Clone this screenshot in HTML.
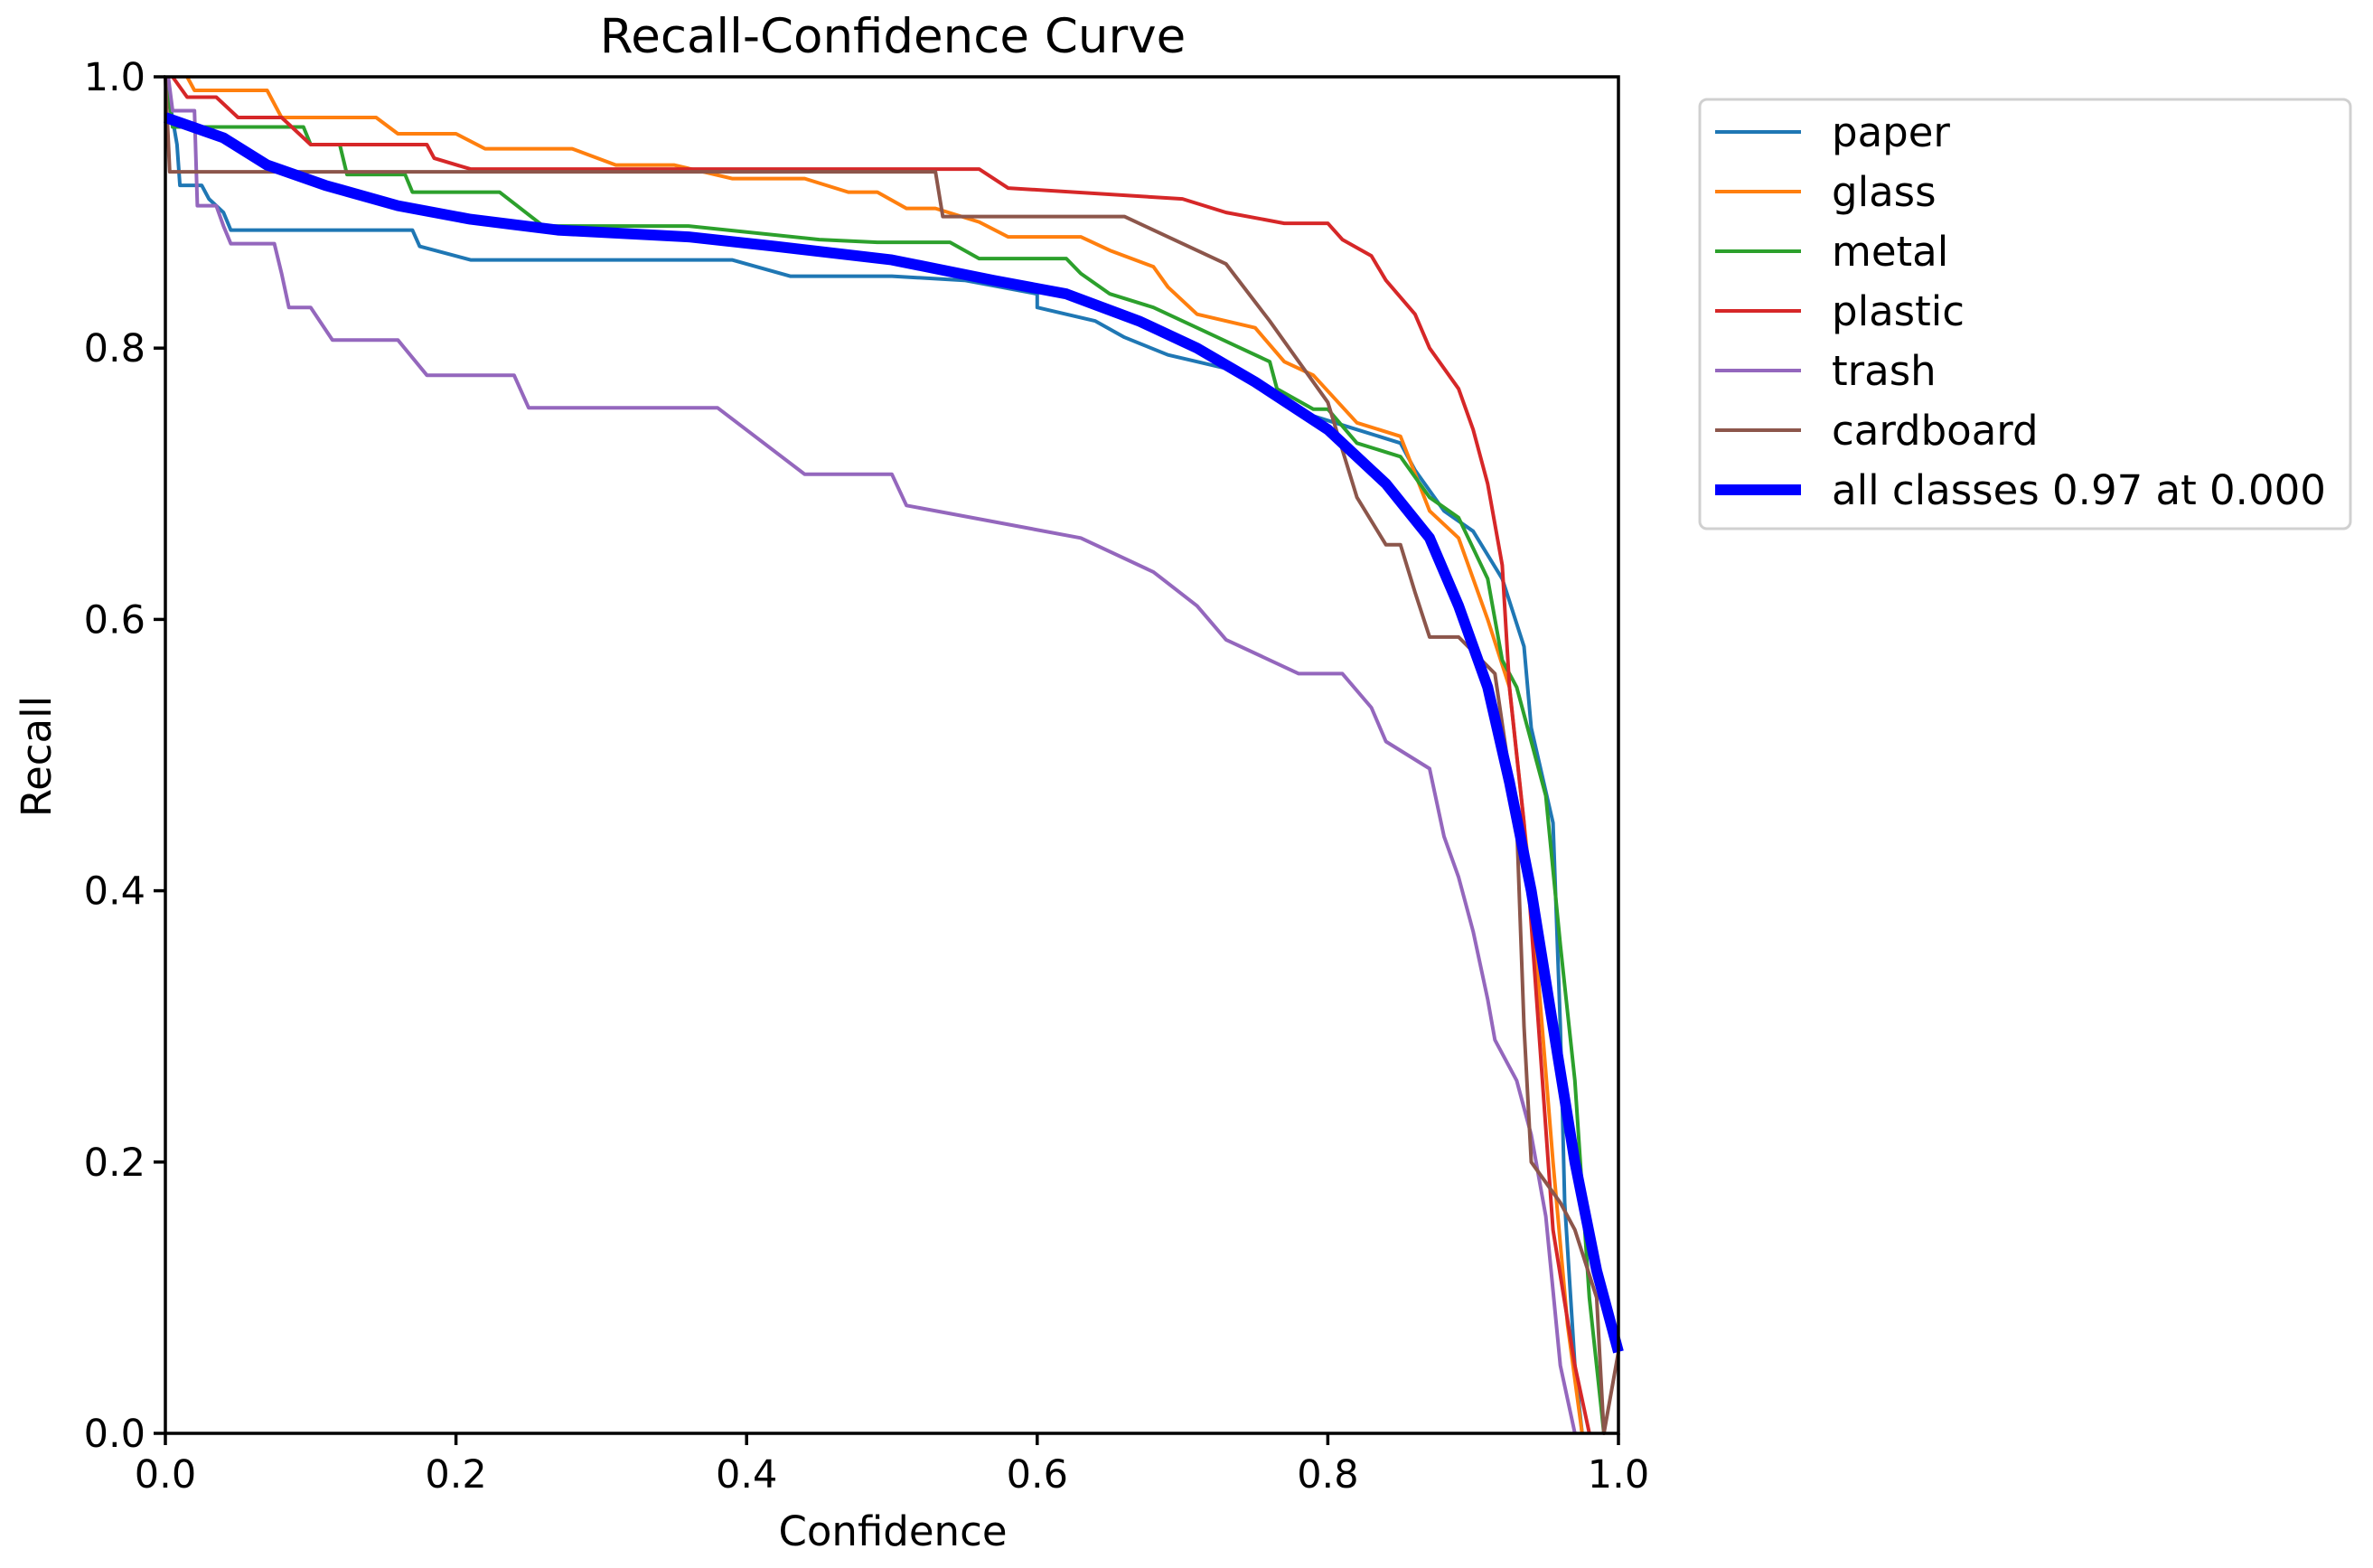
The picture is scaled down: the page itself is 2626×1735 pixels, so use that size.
<!DOCTYPE html>
<html><head><meta charset="utf-8"><style>
body{margin:0;background:#fff;}
svg{display:block;font-family:"DejaVu Sans","Liberation Sans",sans-serif;}
</style></head><body>
<svg id="chart" width="2626" height="1735" viewBox="0 0 2626 1735">
<text x="988" y="58" font-size="53" text-anchor="middle">Recall-Confidence Curve</text>
<g id="plot"></g>
<g id="axes"></g>
<text x="988" y="1710" font-size="45" text-anchor="middle">Confidence</text>
<text transform="translate(56,837) rotate(-90)" font-size="45" text-anchor="middle">Recall</text>
<g id="legend"></g>
</svg>
<script>
const xTicks=[0,0.2,0.4,0.6,0.8,1.0];
const yTicks=[0,0.2,0.4,0.6,0.8,1.0];
const tickLabels=["0.0","0.2","0.4","0.6","0.8","1.0"];
const seriesNames=["paper","glass","metal","plastic","trash","cardboard"];
const seriesColors=["#1f77b4","#ff7f0e","#2ca02c","#d62728","#9467bd","#8c564b"];
const paperX=[0,0.008,0.01,0.025,0.03,0.035,0.04,0.045,0.17,0.175,0.21,0.39,0.43,0.5,0.55,0.6,0.6,0.64,0.66,0.69,0.73,0.76,0.79,0.82,0.85,0.86,0.88,0.9,0.92,0.935,0.94,0.955,0.96,0.963,0.97,0.975];
const paperY=[1.0,0.95,0.92,0.92,0.91,0.905,0.9,0.887,0.887,0.875,0.865,0.865,0.853,0.853,0.85,0.84,0.83,0.82,0.808,0.795,0.785,0.77,0.75,0.74,0.73,0.71,0.68,0.665,0.63,0.58,0.52,0.45,0.3,0.17,0.05,0.0];
const glassX=[0.015,0.02,0.07,0.08,0.145,0.16,0.2,0.22,0.28,0.31,0.35,0.39,0.44,0.47,0.49,0.51,0.53,0.56,0.58,0.63,0.65,0.68,0.69,0.71,0.75,0.77,0.79,0.82,0.85,0.87,0.89,0.91,0.925,0.93,0.94,0.955,0.965,0.975];
const glassY=[1.0,0.99,0.99,0.97,0.97,0.958,0.958,0.947,0.947,0.935,0.935,0.925,0.925,0.915,0.915,0.903,0.903,0.893,0.882,0.882,0.872,0.86,0.845,0.825,0.815,0.79,0.78,0.745,0.735,0.68,0.66,0.6,0.55,0.5,0.4,0.2,0.08,0.0];
const metalX=[0.002,0.005,0.095,0.1,0.12,0.125,0.165,0.17,0.23,0.26,0.36,0.45,0.49,0.54,0.56,0.62,0.63,0.65,0.68,0.71,0.73,0.76,0.765,0.79,0.8,0.82,0.85,0.87,0.89,0.91,0.92,0.93,0.95,0.96,0.97,0.98,0.99];
const metalY=[0.99,0.963,0.963,0.95,0.95,0.928,0.928,0.915,0.915,0.89,0.89,0.88,0.878,0.878,0.866,0.866,0.855,0.84,0.83,0.815,0.805,0.79,0.77,0.755,0.755,0.73,0.72,0.69,0.675,0.63,0.57,0.55,0.47,0.36,0.26,0.1,0.0];
const plasticX=[0.005,0.015,0.035,0.05,0.08,0.09,0.1,0.18,0.185,0.21,0.56,0.58,0.7,0.73,0.77,0.8,0.81,0.83,0.84,0.86,0.87,0.89,0.9,0.91,0.92,0.925,0.935,0.945,0.955,0.97,0.98];
const plasticY=[1.0,0.985,0.985,0.97,0.97,0.96,0.95,0.95,0.94,0.932,0.932,0.918,0.91,0.9,0.892,0.892,0.88,0.868,0.85,0.825,0.8,0.77,0.74,0.7,0.64,0.55,0.45,0.3,0.15,0.05,0.0];
const trashX=[0.002,0.005,0.02,0.022,0.035,0.04,0.045,0.075,0.08,0.085,0.1,0.115,0.16,0.18,0.24,0.25,0.38,0.44,0.5,0.51,0.63,0.68,0.71,0.73,0.78,0.81,0.83,0.84,0.87,0.88,0.89,0.9,0.91,0.915,0.93,0.94,0.95,0.96,0.97];
const trashY=[1.0,0.975,0.975,0.905,0.905,0.89,0.877,0.877,0.855,0.83,0.83,0.806,0.806,0.78,0.78,0.756,0.756,0.707,0.707,0.684,0.66,0.635,0.61,0.585,0.56,0.56,0.535,0.51,0.49,0.44,0.41,0.37,0.32,0.29,0.26,0.22,0.16,0.05,0.0];
const cardX=[0,0.003,0.53,0.535,0.66,0.73,0.76,0.8,0.82,0.84,0.85,0.86,0.87,0.89,0.915,0.93,0.935,0.94,0.96,0.97,0.985,0.99,1.0];
const cardY=[1.0,0.93,0.93,0.897,0.897,0.862,0.82,0.76,0.69,0.655,0.655,0.62,0.587,0.587,0.56,0.45,0.3,0.2,0.17,0.15,0.1,0.0,0.06];
const allX=[0,0.04,0.07,0.11,0.16,0.21,0.27,0.36,0.42,0.5,0.57,0.62,0.67,0.71,0.75,0.8,0.84,0.87,0.89,0.91,0.925,0.94,0.955,0.97,0.985,1.0];
const allY=[0.97,0.955,0.935,0.92,0.905,0.895,0.887,0.882,0.875,0.865,0.85,0.84,0.82,0.8,0.775,0.74,0.7,0.66,0.61,0.55,0.48,0.4,0.3,0.2,0.12,0.06];
const seriesX=[paperX,glassX,metalX,plasticX,trashX,cardX];
const seriesY=[paperY,glassY,metalY,plasticY,trashY,cardY];

const L=183,R=1791,T=85,B=1586;
const sx=v=>L+v*(R-L);
const sy=v=>B-v*(B-T);
const NS="http://www.w3.org/2000/svg";
function mk(tag,attrs,parent){const e=document.createElementNS(NS,tag);for(const k in attrs)e.setAttribute(k,attrs[k]);parent.appendChild(e);return e;}
const plot=document.getElementById('plot');
const axes=document.getElementById('axes');
const legend=document.getElementById('legend');
function pts(xs,ys){return xs.map((x,i)=>sx(x).toFixed(1)+","+sy(ys[i]).toFixed(1)).join(" ");}
seriesX.forEach((xs,i)=>{
  const p=mk('polyline',{points:pts(xs,seriesY[i]),fill:'none',stroke:seriesColors[i],'stroke-width':4,'stroke-linejoin':'round'},plot);
  
  
});
const allLine=mk('polyline',{points:pts(allX,allY),fill:'none',stroke:'#0000ff','stroke-width':12,'stroke-linejoin':'round'},plot);



const frame=mk('rect',{x:L,y:T,width:R-L,height:B-T,fill:'none',stroke:'#000','stroke-width':3.5},axes);


xTicks.forEach((v,i)=>{
  const t=mk('line',{x1:sx(v),x2:sx(v),y1:B,y2:B+13,stroke:'#000','stroke-width':3.5},axes);
  
  
  const l=mk('text',{x:sx(v),y:B+60,'font-size':43,'text-anchor':'middle'},axes);
  l.textContent=tickLabels[i];
  
  
});
yTicks.forEach((v,i)=>{
  const t=mk('line',{x1:L-13,x2:L,y1:sy(v),y2:sy(v),stroke:'#000','stroke-width':3.5},axes);
  
  
  const l=mk('text',{x:L-22,y:sy(v)+15,'font-size':43,'text-anchor':'end'},axes);
  l.textContent=tickLabels[i];
  
  
});
const box=mk('rect',{x:1881,y:110,width:720,height:475,rx:8,fill:'#fff',stroke:'#d0d0d0','stroke-width':3},legend);


const labels=seriesNames.concat(["all classes 0.97 at 0.000"]);
const cols=seriesColors.concat(["#0000ff"]);
labels.forEach((s,i)=>{
  const y=146+i*66;
  const ln=mk('line',{x1:1898,x2:1993,y1:y,y2:y,stroke:cols[i],'stroke-width':i==6?12:4},legend);
  
  
  const t=mk('text',{x:2027,y:y+16,'font-size':45},legend);
  t.textContent=s;
  
  
});
</script>
</body></html>
